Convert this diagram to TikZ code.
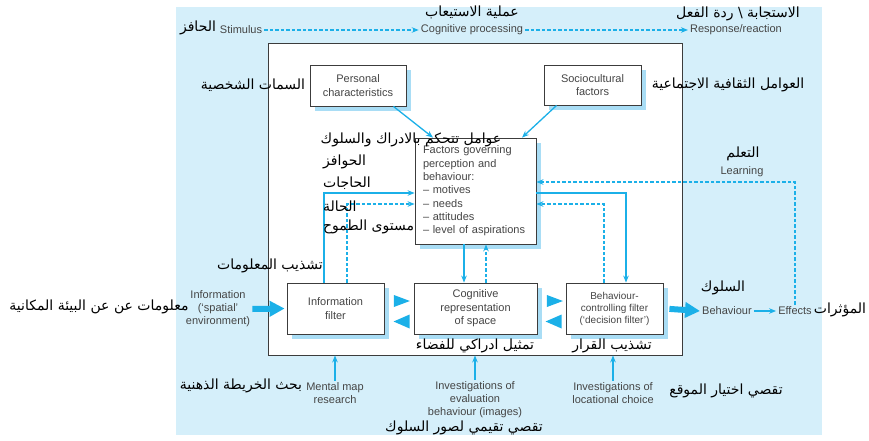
\documentclass[tikz,border=0pt]{standalone}
\usepackage{fontspec}
\setmainfont{Liberation Sans}
\newfontfamily\arabicfont[Script=Arabic]{DejaVu Sans}
\TeXXeTstate=1
\usetikzlibrary{arrows.meta,calc,shadows}
\definecolor{bgblue}{HTML}{D5EFFA}
\definecolor{arrowblue}{HTML}{1BB0E8}
\definecolor{shadowblue}{HTML}{A9DDF5}
\definecolor{boxgray}{HTML}{3C3C3C}
\definecolor{txtgray}{HTML}{454545}
\newcommand\artxt[1]{\beginR #1\endR}
\begin{document}
\begin{tikzpicture}[x=1pt,y=-1pt,
  en/.style={font=\fontsize{11}{13}\selectfont, text=txtgray, inner sep=2pt, align=center},
  ar/.style={font=\arabicfont\fontsize{14}{16}\selectfont, text=black, inner sep=0pt},
  boxshadow/.style={drop shadow={shadow xshift=5pt, shadow yshift=-5pt, fill=shadowblue, opacity=1}},
  box/.style={draw=boxgray, line width=0.8pt, fill=white, inner sep=0pt, align=center,
    font=\fontsize{11}{13.5}\selectfont, text=txtgray, boxshadow},
  flow/.style={draw=arrowblue, line width=1.3pt, -{Stealth[length=7pt,width=5.5pt]}},
  dflow/.style={flow, dash pattern=on 3.5pt off 2pt},
  bigflow/.style={draw=arrowblue, line width=6pt, -{Triangle[length=15pt,width=15pt]}},
]
\useasboundingbox (0,0) rectangle (869,441);
\node[fill=bgblue, minimum width=646, minimum height=428, inner sep=0] (bg) at (499,221) {};
\node[draw=boxgray, line width=0.8pt, fill=white, minimum width=414, minimum height=312, inner sep=0] (panel) at (475,199) {};

% top row
\node[en] (stim) at (241,30) {Stimulus};
\node[en] (cogp) at (472,30) {Cognitive processing};
\node[en] (resp) at (736,30) {Response/reaction};
\draw[dflow] (stim) -- (cogp);
\draw[dflow] (cogp) -- (resp);

% boxes
\node[box, minimum width=96, minimum height=41] (pers) at (358,85.5) {Personal\\characteristics};
\node[box, minimum width=97, minimum height=40] (soc) at (592.5,85) {Sociocultural\\factors};
\node[box, minimum width=121, minimum height=106, text width=105, align=left,
  font=\fontsize{11}{13.3}\selectfont] (fac) at (475.5,191)
  {Factors governing\\perception and\\behaviour:\\– motives\\– needs\\– attitudes\\– level of aspirations};
\node[box, minimum width=97, minimum height=51] (inf) at (335.5,308.5) {Information\\filter};
\node[box, minimum width=123, minimum height=51] (cog) at (475.5,308.5) {Cognitive\\representation\\of space};
\node[box, minimum width=97, minimum height=51, font=\fontsize{10}{12}\selectfont] (bfl) at (614.5,308.5) {Behaviour-\\controlling filter\\(‘decision filter’)};

\draw[flow] ([xshift=-13pt]pers.south east) -- ([xshift=-42.5pt]fac.north);
\draw[flow] ([xshift=13pt]soc.south west) -- ([xshift=46.5pt]fac.north);

% loops
\draw[flow] ([xshift=-11.5pt]inf.north) |- ([yshift=-2pt]fac.west);
\draw[dflow] ([xshift=11.5pt]inf.north) |- ([yshift=-13pt]fac.west);
\draw[flow] ([yshift=-2pt]fac.east) -| ([xshift=11.5pt]bfl.north);
\draw[dflow] ([xshift=-10.5pt]bfl.north) |- ([yshift=-13pt]fac.east);
\draw[flow] ([xshift=-11.5pt]fac.south) -- ([xshift=-11.5pt]cog.north);
\draw[dflow] ([xshift=10.5pt]cog.north) -- ([xshift=10.5pt]fac.south);

% big triangles between boxes
\fill[arrowblue] ($(inf.east)+(9.5,-13.5)$) -- ++(16,6) -- ++(-16,6) -- cycle;
\fill[arrowblue] ($(cog.west)+(-4,6)$) -- ++(-16,7) -- ++(16,7) -- cycle;
\fill[arrowblue] ($(cog.east)+(9.5,-13.5)$) -- ++(16,6) -- ++(-16,6) -- cycle;
\fill[arrowblue] ($(bfl.west)+(-4,6)$) -- ++(-16,7) -- ++(16,7) -- cycle;

% left input
\node[en] (infoenv) at (218,309) {Information\\(‘spatial’\\environment)};
\draw[bigflow, shorten >=2pt] (infoenv.east) -- (inf.west);

% right output
\node[en] (behav) at (727,311) {Behaviour};
\node[en] (eff) at (795,311) {Effects};
\draw[bigflow, shorten <=6pt] (bfl.east) -- (behav.west);
\draw[flow] (behav) -- (eff);
\node[en] (learn) at (742,172) {Learning};
\draw[dflow] (eff.north) |- ([yshift=9pt]fac.east);

% bottom
\node[en] (mmr) at (335,393.5) {Mental map\\research};
\node[en] (iev) at (475,400) {Investigations of\\evaluation\\behaviour (images)};
\node[en] (ilc) at (613,393.5) {Investigations of\\locational choice};
\draw[flow] (mmr.north) -- (mmr.north |- panel.south);
\draw[flow] (iev.north) -- (iev.north |- panel.south);
\draw[flow] (ilc.north) -- (ilc.north |- panel.south);

% arabic labels
\node[ar] (a1) at (198,28) {\artxt{الحافز}};
\node[ar] (a2) at (472,12) {\artxt{عملية الاستيعاب}};
\node[ar] (a3) at (738,14) {\artxt{الاستجابة \textbackslash\ ردة الفعل}};
\node[ar] (a4) at (253,85) {\artxt{السمات الشخصية}};
\node[ar] (a5) at (728,85) {\artxt{العوامل الثقافية الاجتماعية}};
\node[ar] (a6) at (411,140) {\artxt{عوامل تتحكم بالادراك والسلوك}};
\node[ar, anchor=west] (a7) at (323,162) {\artxt{الحوافز}};
\node[ar, anchor=west] (a8) at (323,183) {\artxt{الحاجات}};
\node[ar, anchor=west] (a9) at (323,206) {\artxt{الحالة}};
\node[ar, anchor=west] (a10) at (323,227) {\artxt{مستوى الطموح}};
\node[ar] (a11) at (743,154) {\artxt{التعلم}};
\node[ar] (a12) at (270,266) {\artxt{تشذيب المعلومات}};
\node[ar] (a13) at (99,307) {\artxt{معلومات عن عن البيئة المكانية}};
\node[ar] (a14) at (723,288) {\artxt{السلوك}};
\node[ar] (a15) at (840,310) {\artxt{المؤثرات}};
\node[ar] (a16) at (475,346) {\artxt{تمثيل ادراكي للفضاء}};
\node[ar] (a17) at (612,346) {\artxt{تشذيب القرار}};
\node[ar] (a18) at (241,386) {\artxt{بحث الخريطة الذهنية}};
\node[ar] (a19) at (726,391) {\artxt{تقصي اختيار الموقع}};
\node[ar] (a20) at (464,428) {\artxt{تقصي تقيمي لصور السلوك}};
\end{tikzpicture}
\end{document}
